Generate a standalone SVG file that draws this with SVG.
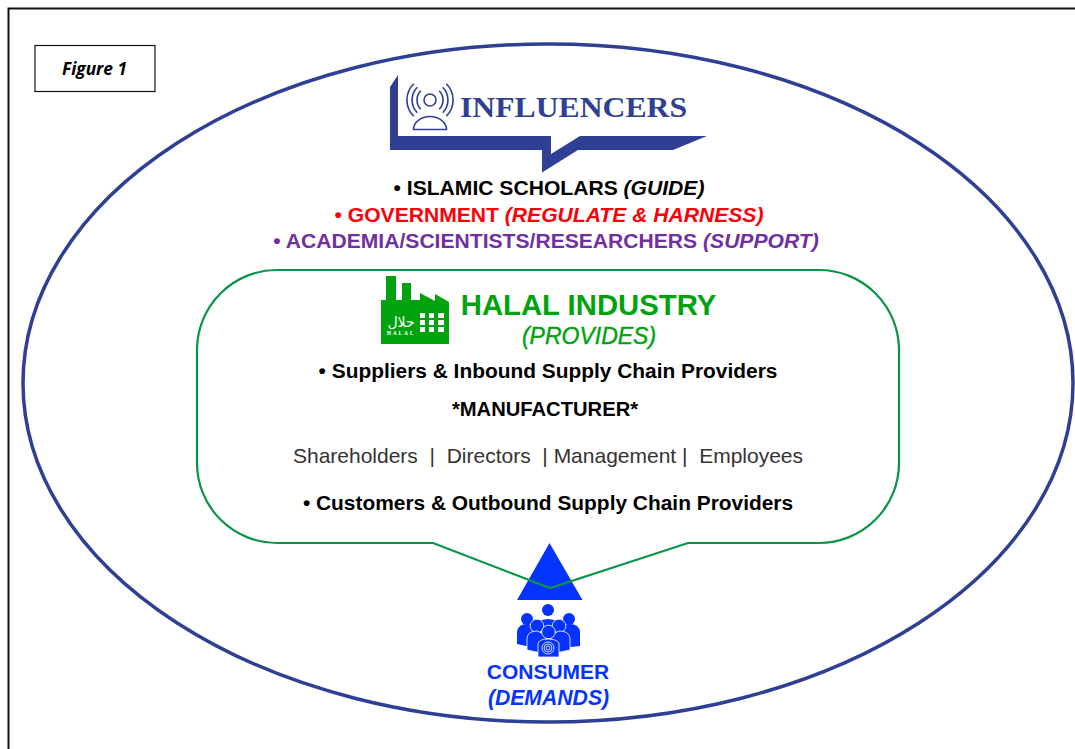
<svg xmlns="http://www.w3.org/2000/svg" width="1075" height="749" viewBox="0 0 1075 749">
<style>
text{font-family:"Liberation Sans",Arial,sans-serif}
.c{text-anchor:middle}
.b{font-size:21.100px;font-weight:700;fill:#000}
.s{font-size:20.900px;font-weight:700;fill:#000}
.i{font-style:italic}
.blue{fill:#0433ff}
.navy{fill:#2e3f94}
.grn{fill:#00a30d}
</style>
<rect width="1075" height="749" fill="#fff"/>
<path d="M8.500 749V8.500H1075" fill="none" stroke="#111" stroke-width="2"/>
<g id="figure-label">
<rect x="35" y="45.500" width="120" height="46" fill="#fff" stroke="#111" stroke-width="1.200"/>
<text x="94.500" y="75" class="c i" font-weight="700" style="font-family:'Open Sans','Liberation Sans',sans-serif;font-size:17.300px" fill="#000">Figure 1</text>
</g>
<g id="outer-ellipse">
<ellipse cx="548" cy="383" rx="525" ry="339" fill="none" stroke="#2e3f94" stroke-width="3.500"/>
</g>
<g id="influencers">
<path class="navy" d="M390 87L398 75V136H551V154L580 136H707L673 150H578L542 172.500V150H390Z"/>
<g fill="none" stroke="#2e3f94" stroke-width="1.600">
<circle cx="430" cy="100" r="6"/>
<path d="M420.800 90.800A13 13 0 0 0 420.800 109.200M417.300 87.300A18 18 0 0 0 417.300 112.700M413.700 83.700A23 23 0 0 0 413.700 116.300"/>
<path d="M439.200 90.800A13 13 0 0 1 439.200 109.200M442.700 87.300A18 18 0 0 1 442.700 112.700M446.300 83.700A23 23 0 0 1 446.300 116.300"/>
<path d="M413.500 129.500a16.500 13 0 0 1 33 0z"/>
</g>
<text x="460" y="117" font-size="30" font-weight="700" fill="#2e3f94" textLength="227" lengthAdjust="spacingAndGlyphs" style="font-family:'Liberation Serif',serif">INFLUENCERS</text>
<text x="549" y="195" class="c b">• ISLAMIC SCHOLARS <tspan class="i">(GUIDE)</tspan></text>
<text x="549" y="222" class="c b" style="fill:#fb0007">• GOVERNMENT <tspan class="i">(REGULATE &amp; HARNESS)</tspan></text>
<text x="546" y="248" class="c b" style="fill:#7030a0">• ACADEMIA/SCIENTISTS/RESEARCHERS <tspan class="i">(SUPPORT)</tspan></text>
</g>
<g id="connectors">
<path d="M517 600L549.500 543L582.500 600Z" class="blue"/>
</g>
<g id="halal-industry">
<path d="M277 270H819A80 80 0 0 1 899 350V463A80 80 0 0 1 819 543H688L550 588L433 543H277A80 80 0 0 1 197 463V350A80 80 0 0 1 277 270Z" fill="none" stroke="#0a9447" stroke-width="2.200"/>
<path class="grn" d="M381 344V300H386V276H396V300H402V283H411V300H420V293L435 301V294L449 302V344Z"/>
<g fill="#fff">
<rect x="420" y="313" width="5" height="5"/><rect x="429" y="313" width="5" height="5"/><rect x="438" y="313" width="6" height="5"/>
<rect x="420" y="320" width="5" height="5"/><rect x="429" y="320" width="5" height="5"/><rect x="438" y="320" width="6" height="5"/>
<rect x="420" y="327" width="5" height="5"/><rect x="429" y="327" width="5" height="5"/><rect x="438" y="327" width="6" height="5"/>
</g>
<text x="401" y="327" class="c" font-size="14" fill="#fff" style="font-family:'DejaVu Sans',sans-serif">حلال</text>
<text x="401" y="334.500" class="c" font-size="5.500" font-weight="700" fill="#fff" letter-spacing="1.800" style="font-family:'Liberation Serif',serif">HALAL</text>
<text x="588.500" y="315" class="c grn" font-size="29.300" font-weight="700">HALAL INDUSTRY</text>
<text x="589" y="344" class="c i grn" font-size="23" stroke="#00a30d" stroke-width=".4">(PROVIDES)</text>
<text x="548" y="378" class="c s">• Suppliers &amp; Inbound Supply Chain Providers</text>
<text x="545" y="416" class="c s" style="font-size:20.200px">*MANUFACTURER*</text>
<text x="548" y="463" class="c" font-size="21" fill="#333" xml:space="preserve">Shareholders  |  Directors  | Management |  Employees</text>
<text x="548" y="510" class="c s">• Customers &amp; Outbound Supply Chain Providers</text>
</g>
<g id="consumer">
<g class="blue">
<circle cx="548" cy="610" r="6"/>
<path d="M538 622q10-6 20 0l2 8h-24z"/>
<circle cx="527" cy="619" r="6"/><path d="M517 644v-12q1-8 10-8 5 0 8 3v21z"/>
<circle cx="569" cy="619" r="6"/><path d="M580 646v-14q-1-8-10-8-5 0-8 3v21z"/>
<circle cx="537" cy="626" r="6.800" stroke="#fff" stroke-width=".8"/><path d="M527 650v-12q1-7 10-7l9 4v19z" stroke="#fff" stroke-width=".8"/>
<circle cx="559" cy="626" r="6.800" stroke="#fff" stroke-width=".8"/><path d="M570 650v-12q-1-7-11-7l-8 4v19z" stroke="#fff" stroke-width=".8"/>
<circle cx="548.500" cy="632" r="6.800" stroke="#fff" stroke-width=".8"/><path d="M538 657v-14q2-4 10-4t11 4v14z" stroke="#fff" stroke-width=".8"/>
</g>
<g fill="none" stroke="#fff" stroke-width=".8"><circle cx="548" cy="648" r="2"/><circle cx="548" cy="648" r="4"/><circle cx="548" cy="648" r="6"/></g>
<text x="548" y="679" class="c blue" font-size="21" font-weight="700">CONSUMER</text>
<text x="548.500" y="705" class="c i blue" font-size="21.200" font-weight="700">(DEMANDS)</text>
</g>
</svg>
